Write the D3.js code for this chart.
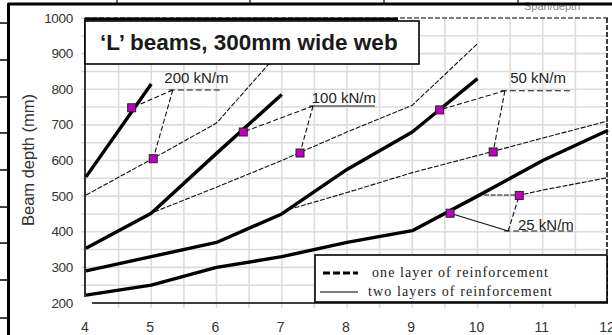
<!DOCTYPE html>
<html>
<head>
<meta charset="utf-8">
<script src="https://cdn.jsdelivr.net/npm/d3@7"></script>
<style>
  html, body { margin: 0; padding: 0; background: #fff; }
  svg { display: block; }
</style>
</head>
<body>
<div id="chart"></div>
<script>
// =========================
// DATA (span in m, depth in mm)
// =========================
const loads = ["200 kN/m", "100 kN/m", "50 kN/m", "25 kN/m"];

// one layer of reinforcement (thick lines)
const oneLayer200 = [[4, 554], [5, 815]];
const oneLayer100 = [[4, 354], [5, 452], [6, 620], [7, 785]];
const oneLayer50 = [[4, 290], [5, 330], [6, 370], [7, 450], [8, 575], [9, 680], [10, 830]];
const oneLayer25 = [[4, 222], [5, 250], [6, 300], [7, 330], [8, 370], [9, 403], [10, 500], [11, 600], [12, 685]];

// two layers of reinforcement (thin lines)
const twoLayer200 = [[4, 503], [5, 603], [6, 705], [7, 912]];
const twoLayer100 = [[5.05, 456], [6, 525], [7, 600], [8, 680], [9, 755], [10, 928]];
const twoLayer50 = [[7.1, 462], [8, 510], [9, 566], [10, 614], [11, 663], [12, 711]];
const twoLayer25 = [[10.1, 503], [10.65, 503], [11, 517], [12, 552]];

// highlighted points (two per load: one layer, two layers)
const markerSpan = [4.7, 5.03, 6.41, 7.28, 9.42, 10.24, 9.58, 10.64];
const markerDepth = [748, 605, 680, 621, 742, 624, 452, 502];

// label text position, leader junction and underline end
const labelSpan = [5.2, 7.46, 10.5, 10.62];
const labelDepth = [818, 762, 818, 405];
const junctionSpan = [5.33, 7.48, 10.42, 10.47];
const junctionDepth = [798, 753, 796, 402];
const underlineEnd = [6.1, 8.43, 11.45, 11.46];

const xTicks = [4, 5, 6, 7, 8, 9, 10, 11, 12];
const yTicks = [200, 300, 400, 500, 600, 700, 800, 900, 1000];

const titleText = "\u2018L\u2019 beams, 300mm wide web";
const legendLabels = ["one layer of reinforcement", "two layers of reinforcement"];

// =========================
// SETUP
// =========================
const W = 612, H = 335;

const svg = d3.select("#chart")
    .append("svg")
    .attr("width", W)
    .attr("height", H);

const x = d3.scaleLinear().domain([4, 12]).range([86, 608]);
const y = d3.scaleLinear().domain([200, 1000]).range([303, 18]);

const font = "Arial, 'Liberation Sans', sans-serif";

// =========================
// PAGE BORDERS (scanned table)
// =========================
svg.append("text")
    .attr("x", 524).attr("y", 10)
    .style("font-family", font).style("font-size", "11px")
    .style("fill", "#888")
    .text("Span/depth");

svg.append("line")
    .attr("x1", 8).attr("x2", W).attr("y1", 4).attr("y2", 4)
    .attr("stroke", "#000").attr("stroke-width", 3);

svg.append("line")
    .attr("x1", 8.5).attr("x2", 8.5).attr("y1", 3).attr("y2", H)
    .attr("stroke", "#000").attr("stroke-width", 3);

[23, 60, 97, 133, 170, 207, 243, 280, 318].forEach(yy => {
    svg.append("line")
        .attr("x1", 0).attr("x2", 8).attr("y1", yy).attr("y2", yy)
        .attr("stroke", "#000").attr("stroke-width", 1.5);
});

[117, 250, 384, 518].forEach(xx => {
    svg.append("line")
        .attr("x1", xx).attr("x2", xx).attr("y1", 0).attr("y2", 4)
        .attr("stroke", "#000").attr("stroke-width", 1.2);
});

// =========================
// GRID
// =========================
const grid = svg.append("g");

d3.range(4.5, 12, 0.5).forEach(v => {
    grid.append("line")
        .attr("x1", x(v)).attr("x2", x(v))
        .attr("y1", y(1000)).attr("y2", y(200) + 5)
        .attr("stroke", "#dcdcdc").attr("stroke-width", 1.6);
});

d3.range(250, 1000, 50).forEach(v => {
    grid.append("line")
        .attr("x1", x(4) - 5).attr("x2", x(12))
        .attr("y1", y(v)).attr("y2", y(v))
        .attr("stroke", "#dcdcdc").attr("stroke-width", 1.6);
});

grid.append("line")
    .attr("x1", x(4) - 5).attr("x2", x(4))
    .attr("y1", y(1000)).attr("y2", y(1000))
    .attr("stroke", "#cfcfcf").attr("stroke-width", 1.6);

// =========================
// PLOT FRAME
// =========================
svg.append("line")
    .attr("x1", x(4) - 1).attr("x2", x(12))
    .attr("y1", y(1000)).attr("y2", y(1000))
    .attr("stroke", "#000").attr("stroke-width", 1.2)
    .attr("stroke-dasharray", "5,2");

svg.append("line")
    .attr("x1", x(12) - 1).attr("x2", x(12) - 1)
    .attr("y1", y(1000)).attr("y2", y(200))
    .attr("stroke", "#000").attr("stroke-width", 1.5)
    .attr("stroke-dasharray", "5,2");

svg.append("line")
    .attr("x1", x(4) - 1).attr("x2", x(4) - 1)
    .attr("y1", y(1000)).attr("y2", y(200) - 6)
    .attr("stroke", "#000").attr("stroke-width", 1.6);

svg.append("line")
    .attr("x1", x(4) + 6).attr("x2", x(12))
    .attr("y1", y(200)).attr("y2", y(200))
    .attr("stroke", "#000").attr("stroke-width", 1.6);

// =========================
// AXIS LABELS
// =========================
svg.append("g")
    .selectAll("text")
    .data(yTicks)
    .enter()
    .append("text")
    .attr("x", 73)
    .attr("y", d => y(d) + 4.5)
    .attr("text-anchor", "end")
    .style("font-family", font)
    .style("font-size", "13.5px")
    .style("fill", "#333")
    .style("letter-spacing", "-0.3px")
    .text(d => d);

svg.append("g")
    .selectAll("text")
    .data(xTicks)
    .enter()
    .append("text")
    .attr("x", d => x(d) - 1)
    .attr("y", 332)
    .attr("text-anchor", "middle")
    .style("font-family", font)
    .style("font-size", "14px")
    .style("fill", "#333")
    .text(d => d);

svg.append("text")
    .attr("transform", "translate(34,160) rotate(-90)")
    .attr("text-anchor", "middle")
    .style("font-family", font)
    .style("font-size", "16.5px")
    .style("fill", "#333")
    .text("Beam depth (mm)");

// =========================
// LINES
// =========================
const line = d3.line()
    .x(d => x(d[0]))
    .y(d => y(d[1]));

[twoLayer200, twoLayer100, twoLayer50, twoLayer25].forEach(s => {
    svg.append("path")
        .datum(s)
        .attr("fill", "none")
        .attr("stroke", "#111")
        .attr("stroke-width", 1.1)
        .attr("stroke-dasharray", "5,1.6")
        .attr("d", line);
});

[oneLayer200, oneLayer100, oneLayer50, oneLayer25].forEach(s => {
    svg.append("path")
        .datum(s)
        .attr("fill", "none")
        .attr("stroke", "#000")
        .attr("stroke-width", 3.4)
        .attr("stroke-linejoin", "round")
        .attr("d", line);
});

// =========================
// LEADERS + LABELS
// =========================
loads.forEach((lab, i) => {
    const jx = x(junctionSpan[i]), jy = y(junctionDepth[i]);
    const dash = i === 3 ? null : "5,2.5";

    [2 * i, 2 * i + 1].forEach(k => {
        svg.append("line")
            .attr("x1", jx).attr("y1", jy)
            .attr("x2", x(markerSpan[k])).attr("y2", y(markerDepth[k]))
            .attr("stroke", "#111").attr("stroke-width", 1.1)
            .attr("stroke-dasharray", k === 7 ? "5,2.5" : dash);
    });

    svg.append("line")
        .attr("x1", jx - 4).attr("y1", jy)
        .attr("x2", x(underlineEnd[i])).attr("y2", jy)
        .attr("stroke", "#111").attr("stroke-width", 1.1)
        .attr("stroke-dasharray", i === 1 ? null : "6,3");

    svg.append("text")
        .attr("x", x(labelSpan[i]))
        .attr("y", y(labelDepth[i]))
        .style("font-family", font)
        .style("font-size", "15px")
        .style("fill", "#222")
        .text(lab);
});

svg.append("g")
    .selectAll("rect")
    .data(markerSpan)
    .enter()
    .append("rect")
    .attr("x", (d, i) => x(d) - 4)
    .attr("y", (d, i) => y(markerDepth[i]) - 4)
    .attr("width", 8)
    .attr("height", 8)
    .attr("fill", "#c000c0")
    .attr("stroke", "#222")
    .attr("stroke-width", 1);

// =========================
// TITLE BOX
// =========================
svg.append("rect")
    .attr("x", 85).attr("y", 21)
    .attr("width", 334).attr("height", 43)
    .attr("fill", "#fff")
    .attr("stroke", "#000").attr("stroke-width", 1.6);

svg.append("line")
    .attr("x1", 85).attr("x2", 398).attr("y1", 19).attr("y2", 19)
    .attr("stroke", "#000").attr("stroke-width", 3);

svg.append("text")
    .attr("x", 100).attr("y", 50)
    .style("font-family", font)
    .style("font-size", "22.5px")
    .style("font-weight", "bold")
    .style("fill", "#1a1a1a")
    .text(titleText);

// =========================
// LEGEND
// =========================
const legend = svg.append("g");

legend.append("rect")
    .attr("x", 315).attr("y", 255)
    .attr("width", 292).attr("height", 47)
    .attr("fill", "#fff")
    .attr("stroke", "#000").attr("stroke-width", 1.6);

legend.append("line")
    .attr("x1", 323).attr("x2", 358).attr("y1", 273).attr("y2", 273)
    .attr("stroke", "#000").attr("stroke-width", 3)
    .attr("stroke-dasharray", "7,3");

legend.append("line")
    .attr("x1", 320).attr("x2", 358).attr("y1", 292).attr("y2", 292)
    .attr("stroke", "#000").attr("stroke-width", 1.2);

legend.selectAll("text.leg")
    .data(legendLabels)
    .enter()
    .append("text")
    .attr("class", "leg")
    .attr("x", (d, i) => i === 0 ? 372 : 368)
    .attr("y", (d, i) => i === 0 ? 277 : 296)
    .attr("textLength", (d, i) => i === 0 ? 176 : 184)
    .attr("lengthAdjust", "spacing")
    .style("font-family", "'Liberation Serif', 'Times New Roman', serif")
    .style("font-size", "14px")
    .style("fill", "#222")
    .text(d => d);
</script>
</body>
</html>
